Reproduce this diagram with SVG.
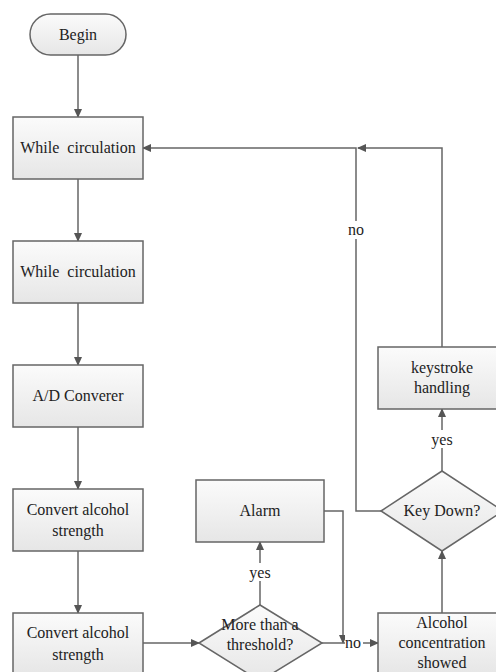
<svg xmlns="http://www.w3.org/2000/svg" width="496" height="672" viewBox="0 0 496 672">
<defs>
<linearGradient id="g" x1="0" y1="0" x2="0" y2="1">
<stop offset="0" stop-color="#fbfbfb"/>
<stop offset="1" stop-color="#e6e6e6"/>
</linearGradient>
<marker id="ah" markerWidth="9" markerHeight="8" refX="8" refY="4" orient="auto" markerUnits="userSpaceOnUse">
<path d="M0,0 L9,4 L0,8 Z" fill="#555"/>
</marker>
<style>
.box{fill:url(#g);stroke:#666;stroke-width:1.5}
.t{font-family:'Liberation Serif','DejaVu Serif',serif;font-size:16px;fill:#222;text-anchor:middle;white-space:pre}
.c{fill:none;stroke:#666;stroke-width:1.5}
.lbl{fill:#fff;stroke:none}
</style>
</defs>
<rect width="496" height="672" fill="#fff"/>
<g id="connectors">
<path class="c" d="M78,55 V117" marker-end="url(#ah)"/>
<path class="c" d="M78,179 V241" marker-end="url(#ah)"/>
<path class="c" d="M78,303 V365" marker-end="url(#ah)"/>
<path class="c" d="M78,427 V489" marker-end="url(#ah)"/>
<path class="c" d="M78,551 V613" marker-end="url(#ah)"/>
<path class="c" d="M143,643 H199" marker-end="url(#ah)"/>
<path class="c" d="M260,605 V542" marker-end="url(#ah)"/>
<path class="c" d="M324,511 H343 V643" marker-end="url(#ah)"/>
<path class="c" d="M322,643 H378" marker-end="url(#ah)"/>
<path class="c" d="M442,613 V551" marker-end="url(#ah)"/>
<path class="c" d="M442,471 V409" marker-end="url(#ah)"/>
<path class="c" d="M442,347 V148 H358" marker-end="url(#ah)"/>
<path class="c" d="M381,511 H356 V148 H143" marker-end="url(#ah)"/>
<rect class="lbl" x="248" y="563" width="24" height="18"/>
<text class="t" x="260" y="578">yes</text>
<rect class="lbl" x="430" y="430" width="24" height="18"/>
<text class="t" x="442" y="445">yes</text>
<rect class="lbl" x="346" y="221" width="20" height="18"/>
<text class="t" x="356" y="235">no</text>
<rect class="lbl" x="345" y="634" width="18" height="18"/>
<text class="t" x="353" y="648">no</text>
</g>
<g id="begin">
<rect class="box" x="30" y="14" width="96" height="41" rx="20.5" ry="20.5"/>
<text class="t" x="78" y="40">Begin</text>
</g>
<g id="while1">
<rect class="box" x="13" y="117" width="130" height="62"/>
<text class="t" x="78" y="153">While  circulation</text>
</g>
<g id="while2">
<rect class="box" x="13" y="241" width="130" height="62"/>
<text class="t" x="78" y="277">While  circulation</text>
</g>
<g id="adconv">
<rect class="box" x="13" y="365" width="130" height="62"/>
<text class="t" x="78" y="401">A/D Converer</text>
</g>
<g id="convert1">
<rect class="box" x="13" y="489" width="130" height="62"/>
<text class="t" x="78" y="515">Convert alcohol</text>
<text class="t" x="78" y="536">strength</text>
</g>
<g id="convert2">
<rect class="box" x="13" y="613" width="130" height="62"/>
<text class="t" x="78" y="638">Convert alcohol</text>
<text class="t" x="78" y="660">strength</text>
</g>
<g id="threshold">
<polygon class="box" points="199,643 260,605 322,643 260,681"/>
<text class="t" x="260" y="630">More than a</text>
<text class="t" x="260" y="650">threshold?</text>
</g>
<g id="alarm">
<rect class="box" x="196" y="480" width="128" height="62"/>
<text class="t" x="260" y="516">Alarm</text>
</g>
<g id="showed">
<rect class="box" x="378" y="613" width="128" height="62"/>
<text class="t" x="442" y="628">Alcohol</text>
<text class="t" x="442" y="648">concentration</text>
<text class="t" x="442" y="668">showed</text>
</g>
<g id="keydown">
<polygon class="box" points="381,511 442,471 503,511 442,551"/>
<text class="t" x="442" y="516">Key Down?</text>
</g>
<g id="keystroke">
<rect class="box" x="378" y="347" width="128" height="62"/>
<text class="t" x="442" y="373">keystroke</text>
<text class="t" x="442" y="393">handling</text>
</g>
</svg>
